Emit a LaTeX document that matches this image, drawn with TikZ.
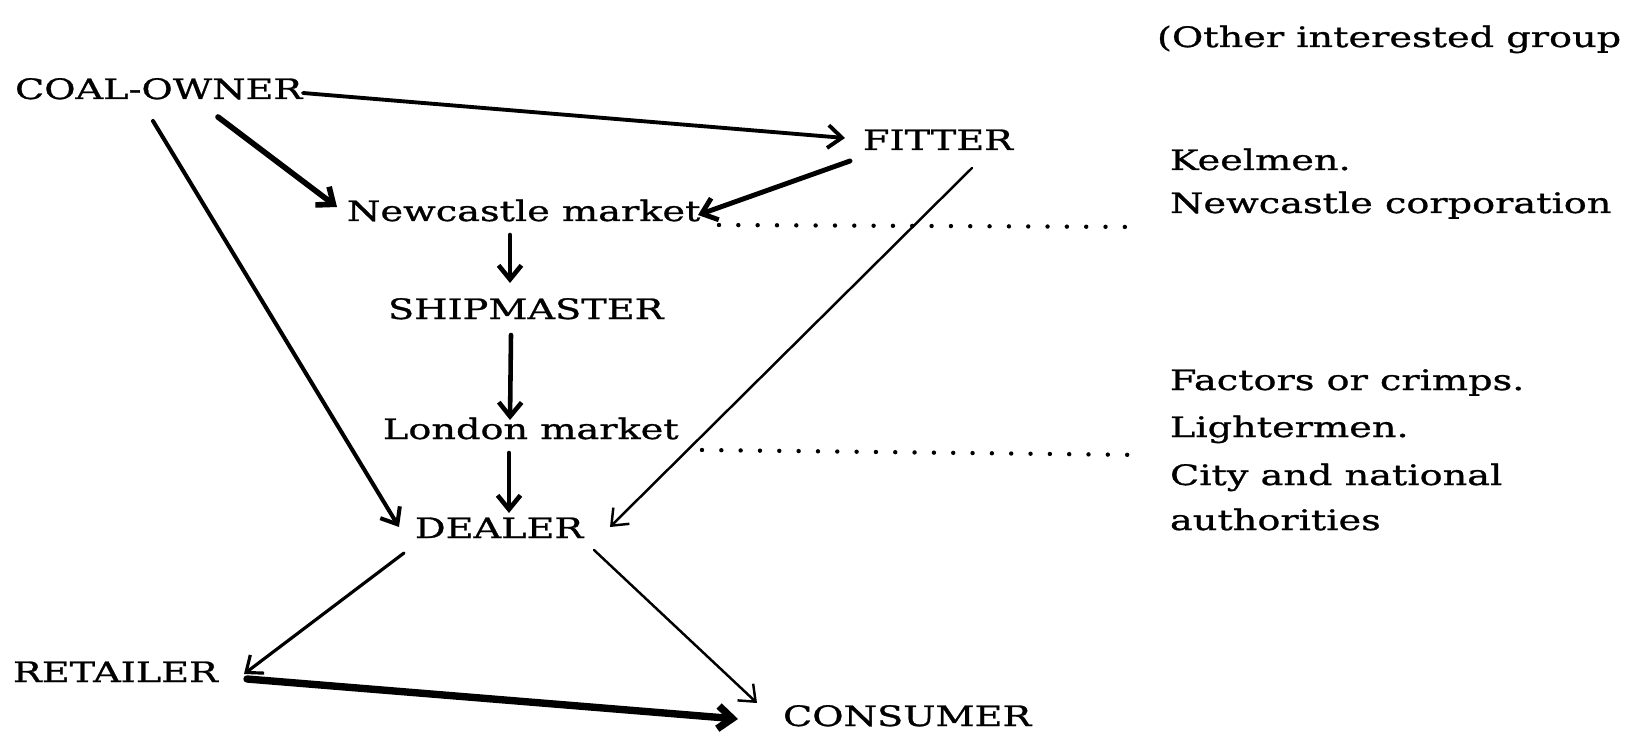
\documentclass[tikz,border=0pt]{standalone}
\usepackage{fontspec}
\setmainfont[FakeStretch=1.36,FakeBold=1]{DejaVu Serif}
\usetikzlibrary{arrows.meta,calc}

\tikzset{
  lbl/.style={inner sep=0pt, outer sep=0pt, anchor=base west,
    font=\fontsize{16}{19}\selectfont},
  flow/.style={-{Straight Barb[length=8pt,width=13pt]}, line width=2.6pt,
    line cap=round, line join=round},
  thinflow/.style={flow, line width=1.4pt},
  heavyflow/.style={flow, line width=4.2pt},
  dots/.style={line width=2.5pt, line cap=round, dash pattern=on 0pt off 11pt}
}

\begin{document}
\begin{tikzpicture}[x=0.02cm, y=-0.02cm]
  \useasboundingbox (0,0) rectangle (1626,733);

  % the chain of trade
  \node[lbl] (owner)    at (15,99)   {COAL-OWNER};
  \node[lbl] (fitter)   at (863,150) {FITTER};
  \node[lbl] (newmkt)   at (347,221) {Newcastle market};
  \node[lbl] (ship)     at (388,319) {SHIPMASTER};
  \node[lbl] (london)   at (383,439) {London market};
  \node[lbl] (dealer)   at (415,538) {DEALER};
  \node[lbl] (retailer) at (13,682)  {RETAILER};
  \node[lbl] (consumer) at (783,726) {CONSUMER};

  % other groups
  \node[lbl] (others) at (1157,47)  {(Other interested group};
  \node[lbl] (keel)   at (1170,170) {Keelmen.};
  \node[lbl] (corp)   at (1170,213) {Newcastle corporation};
  \node[lbl] (fac)    at (1170,390) {Factors or crimps.};
  \node[lbl] (light)  at (1170,437) {Lightermen.};
  \node[lbl] (city)   at (1170,485) {City and national};
  \node[lbl] (auth)   at (1170,530) {authorities};

  % arrows
  \draw[flow, line width=2.2pt] ($(owner.base west)+(288,-6)$) -- ($(fitter.base west)+(-18,-12)$);
  \draw[flow, line width=3.2pt] ($(owner.base west)+(203,18)$) -- ($(newmkt.base west)+(-10,-14)$);
  \draw[flow, line width=2.3pt] ($(owner.base west)+(138,22)$) -- ($(dealer.base west)+(-16,-11)$);
  \draw[flow, line width=2.8pt] ($(fitter.base west)+(-13,11)$) -- ($(newmkt.base west)+(351,-6)$);
  \draw[thinflow] ($(fitter.base west)+(109,18)$) -- ($(dealer.base west)+(195,-11)$);
  \draw[flow] ($(newmkt.base west)+(163,14)$) -- ($(ship.base west)+(122,-36)$);
  \draw[flow] ($(ship.base west)+(123,16)$) -- ($(london.base west)+(127,-19)$);
  \draw[flow] ($(london.base west)+(126,14)$) -- ($(dealer.base west)+(94,-25)$);
  \draw[flow, line width=1.8pt] ($(dealer.base west)+(-11,15)$) -- ($(retailer.base west)+(231,-8)$);
  \draw[thinflow] ($(dealer.base west)+(179,12)$) -- ($(consumer.base west)+(-26,-23)$);
  \draw[heavyflow] ($(retailer.base west)+(234,-3)$) -- ($(consumer.base west)+(-45,-7)$);

  % dotted links
  \draw[dots] ($(newmkt.base west)+(372,4)$) -- ($(corp.base west)+(-27,14)$);
  \draw[dots] ($(london.base west)+(319,11)$) -- ($(city.base west)+(-27,-30)$);
\end{tikzpicture}
\end{document}
